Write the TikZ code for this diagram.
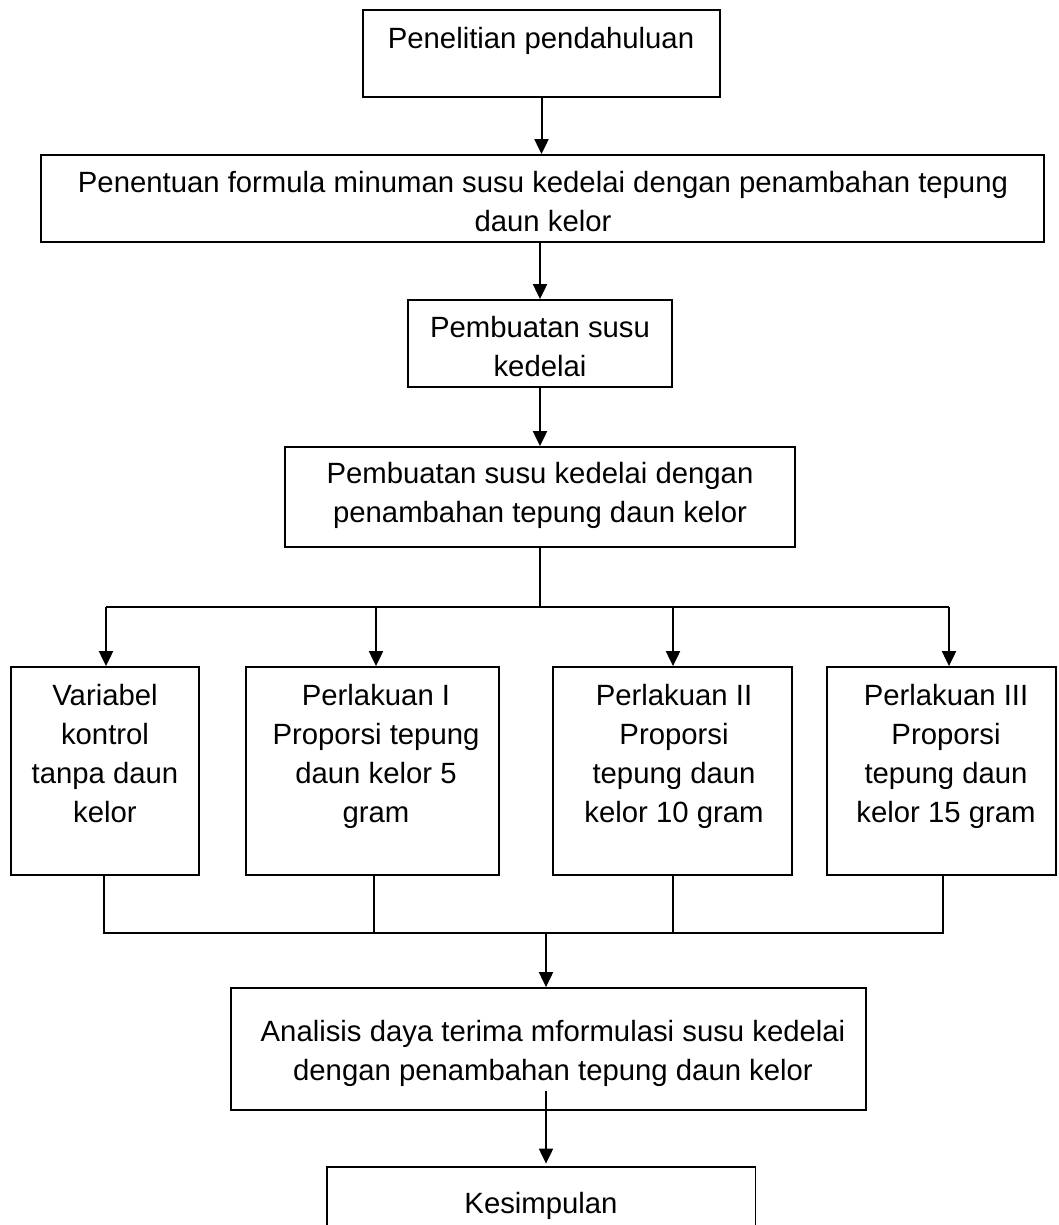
\documentclass[tikz,border=0pt]{standalone}
\usepackage{fontspec}
\setmainfont{Liberation Sans}
\usetikzlibrary{arrows.meta}
\newcommand\mylines[1]{\begin{tabular}[t]{@{}c@{}}#1\end{tabular}}
\begin{document}
\begin{tikzpicture}[x=0.5pt,y=-0.5pt,
  box/.style={draw, line width=0.9pt, inner sep=0pt},
  txt/.style={inner sep=0pt, anchor=base, font=\fontsize{14.65pt}{19.5pt}\selectfont},
  arr/.style={line width=1pt, -{Triangle[width=7pt,length=7.5pt]}},
  con/.style={line width=0.9pt}]
\useasboundingbox (0,0) rectangle (1059,1225);
% boxes
\node[box, minimum width=178.5pt, minimum height=43.5pt] (b1) at (541.5,53.5) {};
\node[box, minimum width=501.5pt, minimum height=43.5pt] (b2) at (542.5,198.5) {};
\node[box, minimum width=132pt, minimum height=43.5pt] (b3) at (540,343.5) {};
\node[box, minimum width=255pt, minimum height=50pt] (b4) at (540,497) {};
\node[box, minimum width=94pt, minimum height=104pt] (ra) at (105,771) {};
\node[box, minimum width=126.5pt, minimum height=104pt] (rb) at (372.5,771) {};
\node[box, minimum width=119.5pt, minimum height=104pt] (rc) at (672.5,771) {};
\node[box, minimum width=114.5pt, minimum height=104pt] (rd) at (941.5,771) {};
\node[box, minimum width=317.5pt, minimum height=61pt] (b6) at (548.5,1049) {};
\node[inner sep=0pt, minimum width=214pt, minimum height=29pt] (kes) at (541,1196) {};
\draw[con] (kes.south west) -- (kes.north west) -- (kes.north east) -- (kes.south east);
% texts
\node[txt] (t1) at (541,49) {Penelitian pendahuluan};
\node[txt] (t2) at (543,193) {\mylines{Penentuan formula minuman susu kedelai dengan penambahan tepung\\daun kelor}};
\node[txt] (t3) at (540,337) {\mylines{Pembuatan susu\\kedelai}};
\node[txt] (t4) at (540,483) {\mylines{Pembuatan susu kedelai dengan\\penambahan tepung daun kelor}};
\node[txt] (ta) at (105,705) {\mylines{Variabel\\kontrol\\tanpa daun\\kelor}};
\node[txt] (tb) at (376,705) {\mylines{Perlakuan I\\Proporsi tepung\\daun kelor 5\\gram}};
\node[txt] (tc) at (674,705) {\mylines{Perlakuan II\\Proporsi\\tepung daun\\kelor 10 gram}};
\node[txt] (td) at (946,705) {\mylines{Perlakuan III\\Proporsi\\tepung daun\\kelor 15 gram}};
\node[txt] (t6) at (553,1041) {\mylines{Analisis daya terima mformulasi susu kedelai\\dengan penambahan tepung daun kelor}};
\node[txt] (tk) at (541,1213) {Kesimpulan};
% connectors
\draw[arr] (b1.south) -- (b1.south |- b2.north);
\draw[arr] (b3.north |- b2.south) -- (b3.north);
\draw[arr] (b3.south) -- (b3.south |- b4.north);
\coordinate (fork) at (540,607);
\coordinate (fa) at (106,607);
\coordinate (fb) at (376,607);
\coordinate (fc) at (673,607);
\coordinate (fd) at (949,607);
\draw[con] (b4.south) -- (fork);
\draw[con] (fa) -- (fd);
\draw[arr] (fa) -- (fa |- ra.north);
\draw[arr] (fb) -- (fb |- rb.north);
\draw[arr] (fc) -- (fc |- rc.north);
\draw[arr] (fd) -- (fd |- rd.north);
\coordinate (ja) at (104,933);
\coordinate (jb) at (374,933);
\coordinate (jc) at (673,933);
\coordinate (jd) at (943,933);
\coordinate (jm) at (546,933);
\draw[con] (ja |- ra.south) -- (ja) -- (jd) -- (jd |- rd.south);
\draw[con] (jb |- rb.south) -- (jb);
\draw[con] (jc |- rc.south) -- (jc);
\draw[arr] (jm) -- (jm |- b6.north);
\coordinate (k0) at (546,1091);
\draw[arr, shorten >=1.5pt] (k0) -- (k0 |- kes.north);
\end{tikzpicture}
\end{document}
